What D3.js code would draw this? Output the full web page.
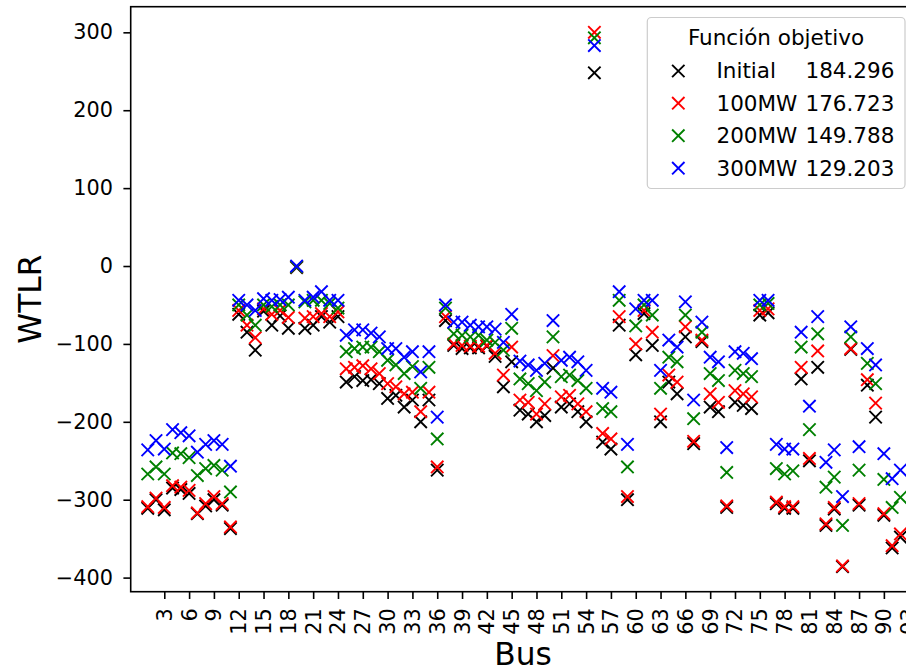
<!DOCTYPE html>
<html>
<head>
<meta charset="utf-8">
<script src="https://cdn.jsdelivr.net/npm/d3@7"></script>
<style>
  html, body { margin: 0; padding: 0; background: #fff; }
  svg { display: block; font-family: "DejaVu Sans", sans-serif; }
</style>
</head>
<body>
<svg id="chart" width="906" height="671"></svg>
<script>
// ---------------- data ----------------
const buses = d3.range(1, 93); // bus 1 .. 92

const initial = [
  -311, -300, -313, -285, -287, -292, -318, -308, -300, -307,
  -337, -62, -85, -108, -58, -76, -64, -80, -2, -80,
  -76, -65, -72, -65, -149, -142, -147, -146, -151, -170,
  -166, -181, -172, -200, -172, -262, -70, -102, -106, -105,
  -105, -103, -116, -155, -123, -185, -190, -200, -192, -131,
  -181, -177, -187, -200, 248, -226, -235, -76, -300, -114,
  -61, -102, -200, -149, -164, -91, -228, -97, -181, -187,
  -310, -175, -179, -183, -63, -60, -305, -311, -311, -145,
  -250, -130, -333, -312, -386, -107, -307, -153, -194, -320,
  -362, -348
];
const mw100 = [
  -309, -298, -310, -282, -284, -288, -317, -305, -296, -305,
  -335, -57, -76, -92, -55, -62, -57, -66, -1, -67,
  -65, -61, -65, -59, -132, -130, -128, -132, -138, -151,
  -155, -164, -162, -187, -162, -258, -65, -100, -102, -103,
  -103, -102, -112, -140, -104, -172, -175, -190, -177, -115,
  -168, -166, -177, -187, 300, -215, -222, -65, -296, -100,
  -57, -85, -190, -140, -149, -78, -225, -95, -164, -175,
  -308, -160, -164, -168, -57, -55, -303, -309, -309, -130,
  -247, -109, -331, -310, -385, -106, -305, -146, -176, -318,
  -359, -344
];
const mw200 = [
  -267, -258, -267, -240, -241, -246, -269, -260, -256, -262,
  -290, -50, -63, -76, -50, -52, -50, -50, -1, -46,
  -44, -44, -48, -54, -110, -106, -104, -104, -110, -121,
  -127, -138, -129, -157, -130, -222, -54, -87, -89, -91,
  -89, -95, -98, -108, -80, -145, -151, -160, -149, -91,
  -142, -140, -147, -157, 293, -183, -187, -44, -258, -77,
  -50, -63, -157, -117, -123, -63, -196, -85, -138, -147,
  -265, -134, -138, -142, -50, -48, -260, -267, -263, -104,
  -210, -87, -284, -271, -333, -91, -262, -125, -151, -274,
  -310, -297
];
const mw300 = [
  -236, -224, -235, -210, -214, -218, -239, -229, -224, -229,
  -257, -44, -50, -57, -42, -44, -43, -40, 0, -44,
  -40, -33, -44, -44, -89, -82, -82, -86, -91, -106,
  -106, -117, -110, -136, -110, -194, -50, -72, -72, -76,
  -78, -78, -81, -98, -62, -122, -127, -134, -125, -70,
  -121, -117, -123, -134, 283, -157, -162, -33, -229, -55,
  -44, -44, -134, -95, -104, -46, -172, -72, -117, -123,
  -233, -110, -112, -119, -44, -44, -229, -235, -235, -85,
  -180, -65, -252, -236, -296, -78, -232, -106, -127, -241,
  -273, -262
];

const seriesNames = ["Initial", "100MW", "200MW", "300MW"];
const objectiveValues = ["184.296", "176.723", "149.788", "129.203"];
const legendTitle = "Función objetivo";
const xTicks = d3.range(3, 94, 3);
const yTicks = d3.range(-400, 301, 100);

// ---------------- styles / layout ----------------
const seriesColors = ["#000000", "#ff0000", "#008000", "#0000ff"];
const plot = { left: 130.7, right: 915.3, top: 6.7, bottom: 591.7 };
const tickFont = 20.8, labelFont = 31.25, legendFont = 21.5;
const markerHalf = 6.2, markerStroke = 1.9;
const textColor = "#000";

const svg = d3.select("#chart");

const x = d3.scaleLinear().domain([-1.06, 93.8]).range([plot.left, plot.right]);
const y = d3.scaleLinear().domain([-418.1, 332.9]).range([plot.bottom, plot.top]);

const series = [initial, mw100, mw200, mw300].map((vals, i) => ({
  name: seriesNames[i],
  value: objectiveValues[i],
  color: seriesColors[i],
  points: buses.map((b, j) => ({ bus: b, v: vals[j] }))
}));

const crossPath = h => `M${-h},${-h}L${h},${h}M${-h},${h}L${h},${-h}`;

// clip
svg.append("defs").append("clipPath").attr("id", "plotclip")
  .append("rect")
  .attr("x", plot.left).attr("y", plot.top)
  .attr("width", plot.right - plot.left).attr("height", plot.bottom - plot.top);

// markers
const gPts = svg.append("g").attr("clip-path", "url(#plotclip)");
series.forEach(s => {
  gPts.append("g").selectAll("path")
    .data(s.points)
    .join("path")
    .attr("transform", d => `translate(${x(d.bus)},${y(d.v)})`)
    .attr("d", crossPath(markerHalf))
    .attr("stroke", s.color)
    .attr("stroke-width", markerStroke)
    .attr("fill", "none");
});

// axes
const yAxis = d3.axisLeft(y).tickValues(yTicks).tickSize(7.3).tickPadding(10.5)
  .tickFormat(d3.format("d"));
const gy = svg.append("g").attr("transform", `translate(${plot.left},0)`).call(yAxis);
gy.select(".domain").remove();
gy.selectAll(".tick line").attr("stroke", "#000").attr("stroke-width", 1.6);
gy.selectAll(".tick text")
  .attr("font-family", "DejaVu Sans").attr("font-size", tickFont).attr("fill", textColor);

const xAxis = d3.axisBottom(x).tickValues(xTicks).tickSize(7.3).tickFormat(d3.format("d"));
const gx = svg.append("g").attr("transform", `translate(0,${plot.bottom})`).call(xAxis);
gx.select(".domain").remove();
gx.selectAll(".tick line").attr("stroke", "#000").attr("stroke-width", 1.6);
gx.selectAll(".tick text")
  .attr("font-family", "DejaVu Sans").attr("font-size", tickFont).attr("fill", textColor)
  .attr("transform", "rotate(-90)")
  .attr("x", -16.5).attr("y", 0).attr("dy", null)
  .attr("text-anchor", "end")
  .attr("dominant-baseline", "central");

// spines
const spine = svg.append("g").attr("stroke", "#000").attr("stroke-width", 1.6).attr("fill", "none");
spine.append("rect")
  .attr("x", plot.left).attr("y", plot.top)
  .attr("width", plot.right - plot.left).attr("height", plot.bottom - plot.top);

// axis labels
svg.append("text")
  .attr("x", (plot.left + plot.right) / 2).attr("y", 665)
  .attr("text-anchor", "middle")
  .attr("font-size", labelFont).attr("fill", textColor)
  .text("Bus");
svg.append("text")
  .attr("transform", `translate(41,${(plot.top + plot.bottom) / 2}) rotate(-90)`)
  .attr("text-anchor", "middle")
  .attr("font-size", labelFont).attr("fill", textColor)
  .text("WTLR");

// legend
const lg = svg.append("g");
lg.append("rect")
  .attr("x", 647.3).attr("y", 17.5).attr("width", 905 - 647.3).attr("height", 188.5 - 17.5)
  .attr("rx", 4).attr("ry", 4)
  .attr("fill", "#fff").attr("fill-opacity", 0.8)
  .attr("stroke", "#cccccc").attr("stroke-width", 1.2);
lg.append("text")
  .attr("x", 776).attr("y", 44.5).attr("text-anchor", "middle")
  .attr("font-size", legendFont).attr("fill", textColor)
  .text(legendTitle);
const rowY = [78.3, 110.5, 143, 175.5];
series.forEach((s, i) => {
  const row = lg.append("g");
  row.append("path")
    .attr("transform", `translate(678.3,${rowY[i] - 7.3})`)
    .attr("d", crossPath(markerHalf))
    .attr("stroke", s.color).attr("stroke-width", markerStroke).attr("fill", "none");
  row.append("text").attr("x", 716.5).attr("y", rowY[i])
    .attr("font-size", legendFont).attr("fill", textColor).text(s.name);
  row.append("text").attr("x", 805.5).attr("y", rowY[i])
    .attr("font-size", legendFont).attr("fill", textColor).text(s.value);
});
</script>
</body>
</html>
